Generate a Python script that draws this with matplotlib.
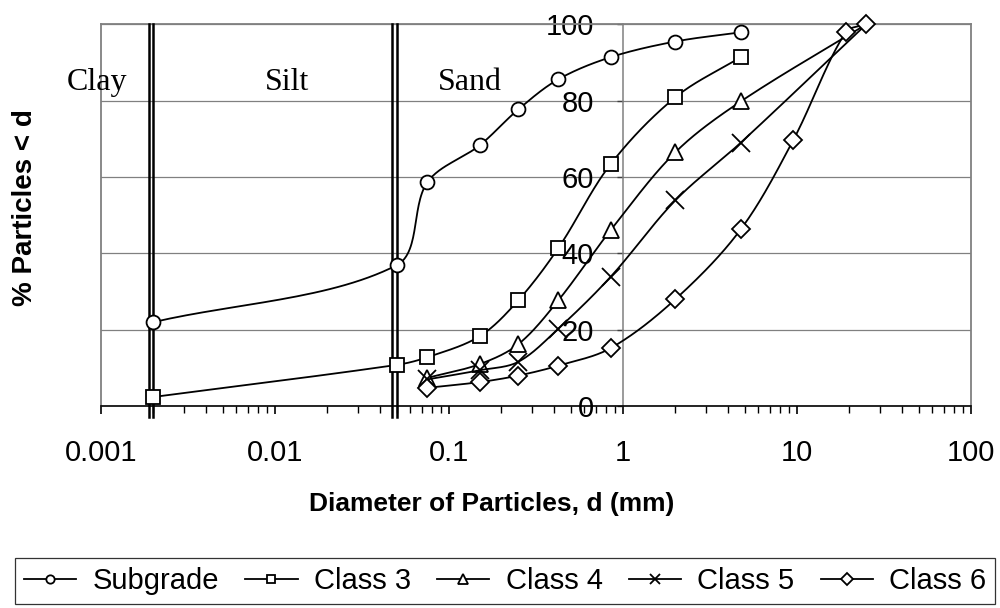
import matplotlib
matplotlib.use("Agg")
import matplotlib.pyplot as plt
import numpy as np
from matplotlib.ticker import FixedLocator, FuncFormatter, NullFormatter

# Gradation data: sieve size (mm) vs percent passing
subgrade_d = [0.002, 0.05, 0.075, 0.15, 0.25, 0.425, 0.85, 2.0, 4.75]
subgrade_pct = [22.0, 36.9, 58.6, 68.3, 77.7, 85.6, 91.4, 95.5, 97.9]

class3_d = [0.002, 0.05, 0.075, 0.15, 0.25, 0.425, 0.85, 2.0, 4.75]
class3_pct = [2.4, 10.8, 12.8, 18.3, 27.7, 41.4, 63.4, 80.9, 91.4]

class4_d = [0.075, 0.15, 0.25, 0.425, 0.85, 2.0, 4.75, 25.0]
class4_pct = [7.4, 11.0, 16.2, 27.7, 46.1, 66.5, 79.8, 100.0]

class5_d = [0.075, 0.15, 0.25, 0.425, 0.85, 2.0, 4.75, 25.0]
class5_pct = [7.0, 9.4, 11.6, 20.3, 33.9, 53.9, 69.0, 100.0]

class6_d = [0.075, 0.15, 0.25, 0.425, 0.85, 2.0, 4.75, 9.5, 19.0, 25.0]
class6_pct = [4.8, 6.3, 8.0, 10.6, 15.2, 28.0, 46.3, 69.6, 97.9, 100.0]

series_names = ["Subgrade", "Class 3", "Class 4", "Class 5", "Class 6"]

# soil class boundaries (mm) and zone labels
boundaries = [0.002, 0.05]
zone_names = ["Clay", "Silt", "Sand"]
zone_x = [0.00095, 0.0117, 0.132]

plt.rcParams["font.family"] = ["Liberation Sans", "DejaVu Sans"]

GREY = "#808080"


def smooth_curve(ax, xs, ys, per_seg=30, tension=1 / 3):
    """Bezier smoothing done in screen space, weighted by segment length."""
    pts = ax.transData.transform(np.column_stack([xs, ys]))
    n = len(pts)
    out = [pts[0]]
    for i in range(n - 1):
        p0 = pts[max(i - 1, 0)]
        p1 = pts[i]
        p2 = pts[i + 1]
        p3 = pts[min(i + 2, n - 1)]
        d01 = np.hypot(*(p1 - p0))
        d12 = np.hypot(*(p2 - p1))
        d23 = np.hypot(*(p3 - p2))
        c1 = p1 + (p2 - p0) * tension * d12 / (d01 + d12)
        c2 = p2 - (p3 - p1) * tension * d12 / (d12 + d23)
        t = np.linspace(0, 1, per_seg + 1)[1:, None]
        seg = ((1 - t) ** 3 * p1 + 3 * (1 - t) ** 2 * t * c1
               + 3 * (1 - t) * t ** 2 * c2 + t ** 3 * p2)
        out.extend(seg)
    data = ax.transData.inverted().transform(np.array(out))
    marks = list(range(0, len(out), per_seg))
    return data[:, 0], data[:, 1], marks


fig = plt.figure(figsize=(10, 6.08), dpi=100)
ax = fig.add_axes([0.101, 0.332, 0.870, 0.628])
ax.set_xscale("log")
ax.set_xlim(1e-3, 100)
ax.set_ylim(0, 100)

# frame and axes
for side in ["top", "right"]:
    ax.spines[side].set_color(GREY)
    ax.spines[side].set_linewidth(1.3)
ax.spines["left"].set_position(("data", 1))
ax.spines["left"].set_color(GREY)
ax.spines["left"].set_linewidth(1.1)
ax.spines["bottom"].set_color("black")
ax.spines["bottom"].set_linewidth(1.2)
ax.axvline(1e-3, color=GREY, lw=1.3, clip_on=False, zorder=2)

ax.set_yticks([0, 20, 40, 60, 80, 100])
ax.yaxis.grid(True, color=GREY, lw=0.9)
ax.set_axisbelow(True)
ax.tick_params(axis="y", direction="out", length=4, width=1, color="#404040",
               pad=17, labelsize=21)

ax.xaxis.set_major_locator(FixedLocator([1e-3, 1e-2, 1e-1, 1, 10, 100]))
minors = [m * 10.0 ** e for e in range(-3, 2) for m in range(2, 10)]
ax.xaxis.set_minor_locator(FixedLocator(minors))
ax.xaxis.set_major_formatter(FuncFormatter(lambda v, _: f"{v:g}"))
ax.xaxis.set_minor_formatter(NullFormatter())
ax.tick_params(axis="x", which="major", direction="out", length=6, width=1.2,
               pad=18, labelsize=21)
ax.tick_params(axis="x", which="minor", direction="out", length=5, width=1)

# double boundary lines between clay / silt / sand
for b in boundaries:
    for xb in (b, b * 0.94):
        ax.axvline(xb, ymin=-0.029, ymax=1, color="black", lw=1.8,
                   clip_on=False, zorder=3)

for name, xz in zip(zone_names, zone_x):
    ax.text(xz, 82.8, name, ha="center", va="baseline", fontsize=23,
            family="Liberation Serif")

styles = [
    dict(marker="o", ms=10),
    dict(marker="s", ms=10),
    dict(marker="^", ms=11),
    dict(marker="x", ms=13),
    dict(marker="D", ms=9.5),
]
# Class 4 and 5 share the 100 % point with Class 6; only its diamond shows there
hide_last = [False, False, True, True, False]
data = [
    (subgrade_d, subgrade_pct),
    (class3_d, class3_pct),
    (class4_d, class4_pct),
    (class5_d, class5_pct),
    (class6_d, class6_pct),
]
for name, (xs, ys), st, hide in zip(series_names, data, styles, hide_last):
    sx, sy, marks = smooth_curve(ax, xs, ys)
    if hide:
        marks = marks[:-1]
    ax.plot(sx, sy, color="black", lw=1.3, markevery=marks,
            mfc="white", mec="black", mew=1.3, label=name, clip_on=False,
            zorder=4, **st)

ax.set_xlabel("Diameter of Particles, d (mm)", fontsize=19, fontweight="bold")
ax.xaxis.set_label_coords(0.449, -0.225)
ax.set_ylabel("% Particles < d", fontsize=20, fontweight="bold")
ax.yaxis.set_label_coords(-0.072, 0.521)

leg = ax.legend(loc="upper left", bbox_to_anchor=(0.015, 1 - 558 / 608),
                bbox_transform=fig.transFigure, ncol=5, fontsize=21,
                frameon=True, fancybox=False, edgecolor="black",
                markerscale=0.6, handlelength=1.8, handletextpad=0.55,
                columnspacing=0.9, borderpad=0.3, borderaxespad=0)
leg.get_frame().set_linewidth(0.9)

fig.savefig("out.png", dpi=100)
plt.close(fig)
